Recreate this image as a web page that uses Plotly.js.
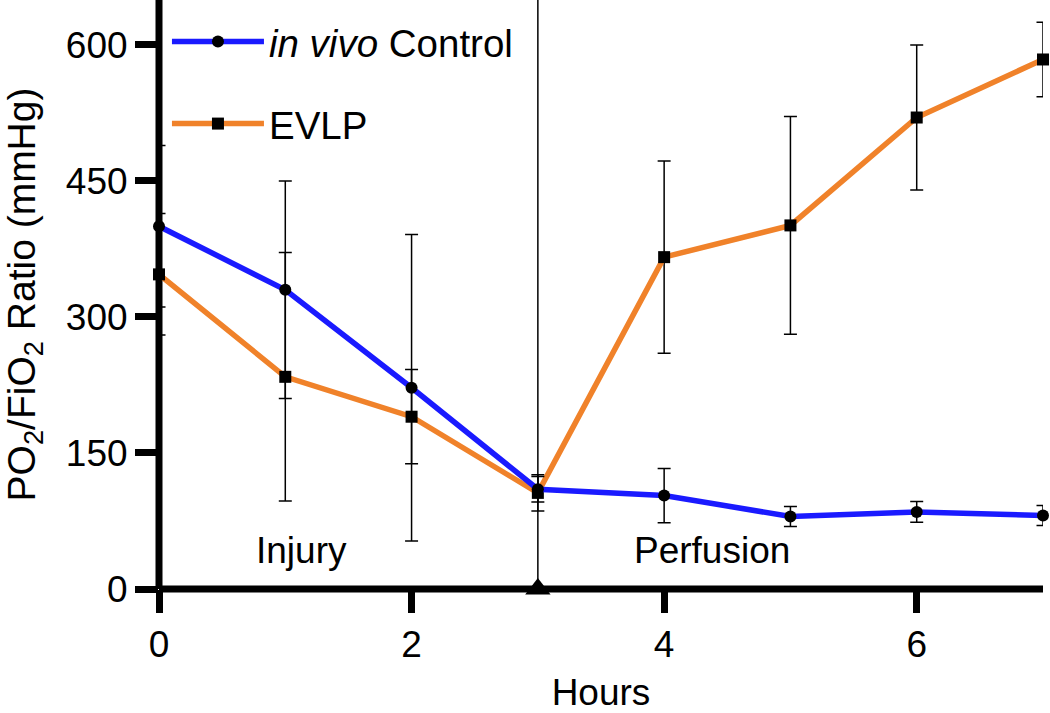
<!DOCTYPE html>
<html>
<head>
<meta charset="utf-8">
<script src="https://cdn.plot.ly/plotly-3.0.1.min.js"></script>
<style>html,body{margin:0;padding:0;background:#fff;}#chart{width:1050px;height:713px;}</style>
</head>
<body>
<div id="chart"></div>
<script>
// ---- data ----
const hours = [0, 1, 2, 3, 4, 5, 6, 7];
const controlName = '<i>in vivo</i> Control';
const controlMean = [400, 330, 222, 110, 103, 80, 85, 81];
const controlErr  = [89, 120, 169, 14, 30, 11, 11.5, 11];
const evlpName = 'EVLP';
const evlpMean = [347, 234, 190, 106, 366, 401, 520, 584];
const evlpErr  = [67, 137, 52, 20, 106, 120, 80, 41];
const eventHour = [3];
const eventValue = [0];
const xTicks = [0, 2, 4, 6];
const yTicks = [0, 150, 300, 450, 600];
const phaseLabels = ['Injury', 'Perfusion'];
const phaseX = [1.13, 4.38];
const phaseY = [42, 42];

const FONT = 'Liberation Sans, Arial, Helvetica, sans-serif';
const BLUE = '#1a1aff';
const ORANGE = '#f0822a';

const evlp = {
  x: hours, y: evlpMean, name: evlpName, type: 'scatter', mode: 'lines+markers',
  line: {color: ORANGE, width: 5.5},
  marker: {symbol: 'square', size: 12, color: '#000'},
  error_y: {type: 'data', array: evlpErr, visible: true, color: '#000', thickness: 1.5, width: 6.5},
  cliponaxis: false, legendgroup: 'b', legendrank: 2
};
const control = {
  x: hours, y: controlMean, name: controlName, type: 'scatter', mode: 'lines+markers',
  line: {color: BLUE, width: 5.5},
  marker: {symbol: 'circle', size: 12, color: '#000'},
  error_y: {type: 'data', array: controlErr, visible: true, color: '#000', thickness: 1.5, width: 6.5},
  cliponaxis: false, legendgroup: 'a', legendrank: 1
};
const event = {
  x: eventHour, y: eventValue, type: 'scatter', mode: 'markers',
  marker: {symbol: 'triangle-up', size: 22, color: '#000'},
  showlegend: false, cliponaxis: false, hoverinfo: 'skip'
};

const layout = {
  width: 1050, height: 713,
  margin: {l: 159, r: 7, t: 0, b: 124, pad: 0},
  paper_bgcolor: '#fff', plot_bgcolor: '#fff',
  font: {family: FONT, size: 37, color: '#000'},
  showlegend: true,
  legend: {
    x: 0.009, y: 0.983, xanchor: 'left', yanchor: 'top',
    font: {family: FONT, size: 38.5, color: '#000'},
    bgcolor: 'rgba(0,0,0,0)', itemwidth: 92,
    traceorder: 'grouped', tracegroupgap: 29
  },
  xaxis: {
    range: [0, 7], tickvals: xTicks, ticktext: xTicks.map(String),
    showline: false, zeroline: false, showgrid: false,
    ticks: 'outside', ticklen: 23, tickwidth: 7, tickcolor: '#000',
    tickfont: {family: FONT, size: 37, color: '#000'},
    title: {text: 'Hours', font: {family: FONT, size: 37, color: '#000'}, standoff: 32},
    fixedrange: true
  },
  yaxis: {
    range: [0, 649.6], tickvals: yTicks, ticktext: yTicks.map(String),
    showline: false, zeroline: false, showgrid: false,
    ticks: 'outside', ticklen: 23, tickwidth: 7, tickcolor: '#000',
    tickfont: {family: FONT, size: 37, color: '#000'},
    title: {text: 'PO<sub>2</sub>/FiO<sub>2</sub> Ratio (mmHg)', font: {family: FONT, size: 39, color: '#000'}, standoff: 20},
    fixedrange: true
  },
  shapes: [
    {type: 'line', xref: 'paper', yref: 'paper', x0: 0, x1: 1, y0: 0, y1: 0, line: {color: '#000', width: 7}, layer: 'below'},
    {type: 'line', xref: 'paper', yref: 'paper', x0: 0, x1: 0, y0: 0, y1: 1, line: {color: '#000', width: 7}, layer: 'below'},
    {type: 'line', xref: 'x', yref: 'paper', x0: eventHour[0], x1: eventHour[0], y0: 0, y1: 1, line: {color: '#000', width: 1.5}, layer: 'below'}
  ],
  annotations: phaseLabels.map((t, i) => ({
    text: t, x: phaseX[i], y: phaseY[i], xref: 'x', yref: 'y',
    showarrow: false, xanchor: 'center', yanchor: 'middle',
    font: {family: FONT, size: 37, color: '#000'}
  }))
};

Plotly.newPlot('chart', [evlp, control, event], layout, {displayModeBar: false, staticPlot: true});
</script>
</body>
</html>
